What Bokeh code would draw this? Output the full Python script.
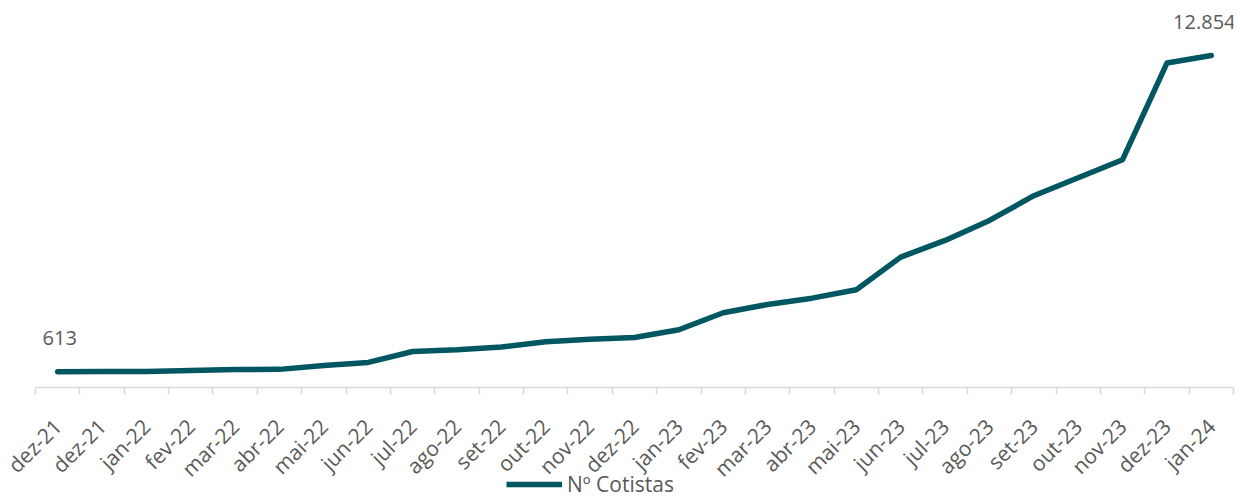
import math

from bokeh.core.properties import value
from bokeh.embed import file_html
from bokeh.layouts import column
from bokeh.models import (ColumnDataSource, FixedTicker, Legend, LegendItem,
                          Range1d)
from bokeh.plotting import figure
from bokeh.resources import INLINE

# Monthly number of fund shareholders (Nº Cotistas)
months = ["dez-21", "dez-21", "jan-22", "fev-22", "mar-22", "abr-22", "mai-22",
          "jun-22", "jul-22", "ago-22", "set-22", "out-22", "nov-22", "dez-22",
          "jan-23", "fev-23", "mar-23", "abr-23", "mai-23", "jun-23", "jul-23",
          "ago-23", "set-23", "out-23", "nov-23", "dez-23", "jan-24"]
cotistas = [613, 616, 622, 660, 700, 702, 850, 970, 1395, 1460, 1565, 1770,
            1870, 1937, 2235, 2894, 3216, 3460, 3785, 5050, 5695, 6470, 7427,
            8125, 8822, 12565, 12854]
series_name = "Nº Cotistas"

LINE_COLOR = "#005661"
TEXT_COLOR = "#595959"
FONT = "Open Sans"

xs = list(range(len(months)))

p = figure(width=1240, height=497, output_backend="svg", toolbar_location=None,
           x_range=Range1d(-0.5, len(months) - 0.5), y_range=Range1d(0, 14600),
           min_border_left=35, min_border_right=7, min_border_top=10,
           min_border_bottom=110)

p.outline_line_color = None
p.xgrid.visible = False
p.ygrid.visible = False
p.yaxis.visible = False
p.background_fill_color = "white"
p.border_fill_color = "white"

p.line(xs, cotistas, line_color=LINE_COLOR, line_width=5.5,
       line_join="round", line_cap="round")

# Category axis: labels at the month centres, tick marks on the boundaries
ax = p.xaxis[0]
ax.ticker = FixedTicker(ticks=xs, minor_ticks=[i - 0.5 for i in range(len(months) + 1)])
ax.major_label_overrides = {i: m for i, m in enumerate(months)}
ax.major_label_orientation = math.pi / 4
ax.major_label_text_font = FONT
ax.major_label_text_font_size = "21px"
ax.major_label_text_color = TEXT_COLOR
ax.major_label_standoff = 28
ax.major_tick_in = 0
ax.major_tick_out = 0
ax.minor_tick_in = 0
ax.minor_tick_out = 7
ax.minor_tick_line_color = "#d9d9d9"
ax.minor_tick_line_width = 1.5
ax.axis_line_color = "#d9d9d9"
ax.axis_line_width = 1.5

# Value labels on the first and last month
def fmt(v):
    return f"{v:,}".replace(",", ".")

first, last = 0, len(months) - 1
labels = ColumnDataSource(dict(
    x=[xs[first], xs[last]],
    y=[cotistas[first], cotistas[last]],
    text=[fmt(cotistas[first]), fmt(cotistas[last])],
    dx=[2, -7],
))
p.text(x="x", y="y", text="text", x_offset="dx", y_offset=-27, source=labels,
       text_align="center", text_baseline="bottom", text_font=value(FONT),
       text_font_size="20px", text_color=TEXT_COLOR)

# Transparent legend strip laid over the bottom edge of the chart
leg = figure(width=1240, height=30, output_backend="svg", toolbar_location=None,
             x_range=Range1d(0, 1), y_range=Range1d(0, 1),
             x_axis_location=None, y_axis_location=None, min_border=0,
             styles={"margin-top": "-30px"})
leg.outline_line_color = None
leg.background_fill_alpha = 0
leg.border_fill_alpha = 0
leg.xgrid.visible = False
leg.ygrid.visible = False
key = leg.line([float("nan")], [float("nan")], line_color=LINE_COLOR, line_width=5.5)

legend = Legend(items=[LegendItem(label=series_name, renderers=[key])],
                location=(471, -1), orientation="horizontal",
                label_text_font=FONT, label_text_font_size="21px",
                label_text_color=TEXT_COLOR, glyph_width=56, glyph_height=22,
                label_standoff=5, border_line_color=None,
                background_fill_alpha=0, padding=0, margin=0)
leg.add_layout(legend, "center")

open("out.html", "w").write(file_html(column(p, leg, spacing=0), INLINE))
